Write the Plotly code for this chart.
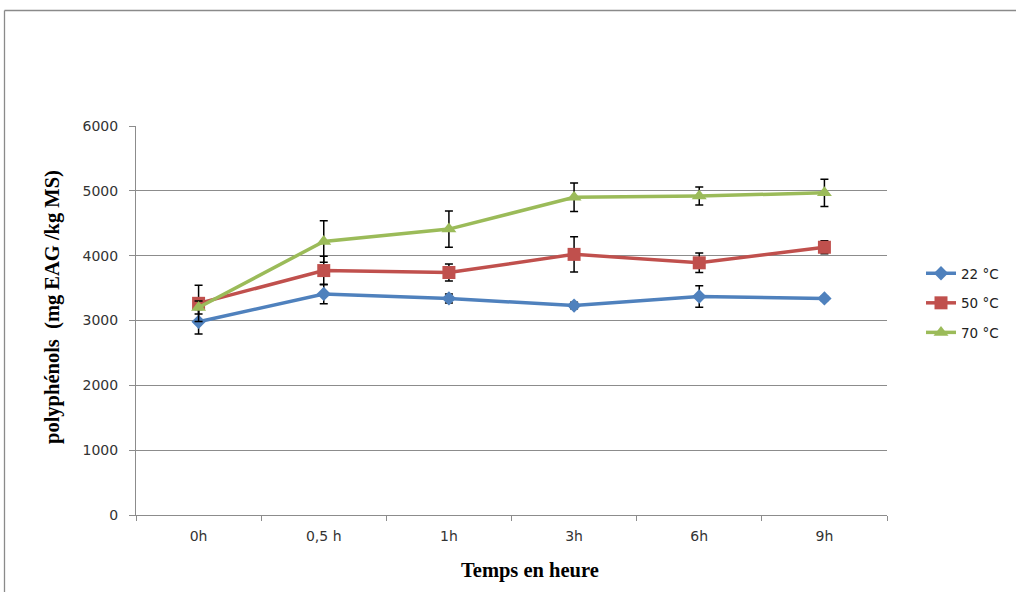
import plotly.graph_objects as go

categories = ["0h", "0,5 h", "1h", "3h", "6h", "9h"]
series_names = ["22 °C", "50 °C", "70 °C"]
t22 = [2980, 3410, 3340, 3230, 3370, 3340]
e22 = [190, 150, 70, 50, 165, 30]
t50 = [3265, 3770, 3740, 4020, 3890, 4130]
e50 = [280, 220, 130, 270, 150, 100]
t70 = [3200, 4220, 4410, 4900, 4920, 4970]
e70 = [100, 320, 280, 220, 140, 210]
y_ticks = [0, 1000, 2000, 3000, 4000, 5000, 6000]

colors = ["#4F81BD", "#C0504D", "#9BBB59"]
symbols = ["diamond", "square", "triangle-up"]
sizes = [11, 13, 13]

fig = go.Figure()
for i, (vals, errs) in enumerate([(t22, e22), (t50, e50), (t70, e70)]):
    fig.add_trace(go.Scatter(
        x=categories, y=vals, name=series_names[i], mode="lines+markers",
        legendgroup=f"g{i}",
        line=dict(color=colors[i], width=3.5),
        marker=dict(symbol=symbols[i], size=sizes[i], color=colors[i],
                    line=dict(color=colors[i], width=0)),
        error_y=dict(type="data", array=errs, visible=True, color="black",
                     thickness=1.5, width=4),
    ))

W, H = 1016, 592
L, R, T, B = 136, 129, 126, 77
pw, ph = W - L - R, H - T - B

def px_x(x):
    return (x - L) / pw

def px_y(y):
    return (H - B - y) / ph

grid_col = "#8c8c8c"
fig.update_layout(
    width=W, height=H,
    margin=dict(l=L, r=R, t=T, b=B, pad=0),
    paper_bgcolor="white", plot_bgcolor="white",
    font=dict(family="DejaVu Sans", size=14, color="#333333"),
    showlegend=True,
    legend=dict(x=px_x(921), y=px_y(258), xanchor="left", yanchor="top",
                font=dict(family="DejaVu Sans", size=13.5, color="#222222"),
                tracegroupgap=9, bgcolor="rgba(0,0,0,0)"),
    xaxis=dict(type="category", categoryorder="array", categoryarray=categories,
               range=[-0.5, len(categories) - 0.5],
               showgrid=False, showline=True, linecolor=grid_col, linewidth=1,
               ticks="outside", tickson="boundaries", ticklen=5, tickcolor=grid_col,
               ticklabelstandoff=8,
               tickfont=dict(family="DejaVu Sans", size=14, color="#333333"),
               zeroline=False),
    yaxis=dict(range=[0, 6000], tickvals=y_ticks, showgrid=True, gridcolor=grid_col,
               gridwidth=1, showline=True, linecolor=grid_col, linewidth=1,
               ticks="outside", ticklen=6, tickcolor=grid_col,
               ticklabelstandoff=8,
               tickfont=dict(family="DejaVu Sans", size=14, color="#333333"),
               zeroline=False),
    annotations=[
        dict(text="<b>polyphénols\u00a0 (mg EAG /kg MS)</b>", textangle=-90,
             xref="paper", yref="paper", x=px_x(52), y=px_y(307),
             xanchor="center", yanchor="middle", showarrow=False,
             font=dict(family="Liberation Serif", size=20.5, color="black")),
        dict(text="<b>Temps en heure</b>",
             xref="paper", yref="paper", x=px_x(530), y=px_y(570),
             xanchor="center", yanchor="middle", showarrow=False,
             font=dict(family="Liberation Serif", size=20.5, color="black")),
    ],
    shapes=[
        dict(type="line", xref="paper", yref="paper",
             x0=px_x(4.5), x1=px_x(1100), y0=px_y(10.5), y1=px_y(10.5),
             line=dict(color="#8a8a8a", width=1.3)),
        dict(type="line", xref="paper", yref="paper",
             x0=px_x(4.5), x1=px_x(4.5), y0=px_y(10.5), y1=px_y(700),
             line=dict(color="#8a8a8a", width=1.3)),
    ],
)

fig.write_html("out.html")
